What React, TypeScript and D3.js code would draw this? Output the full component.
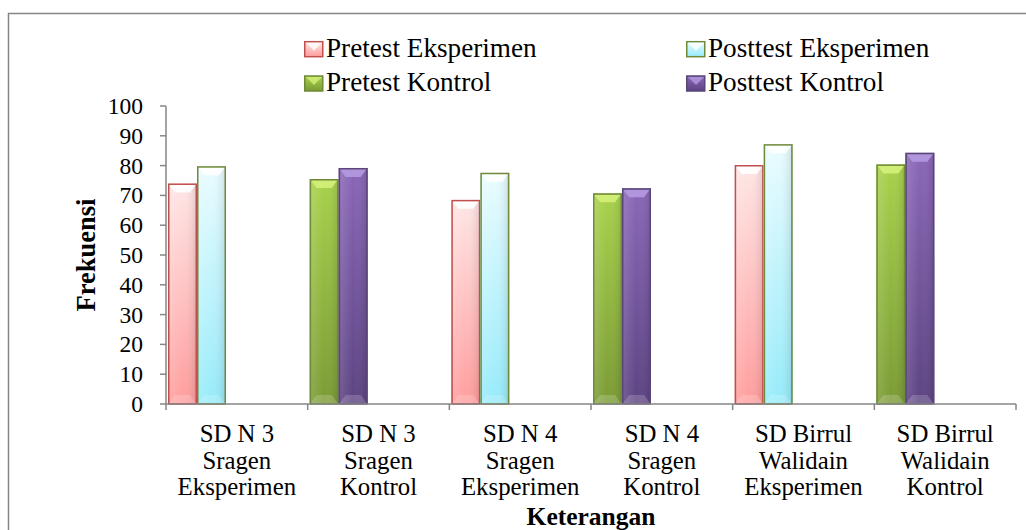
import * as D3 from 'd3'
import { useEffect, useRef } from 'react'

const CATEGORIES = [
  ['SD N 3', 'Sragen', 'Eksperimen'],
  ['SD N 3', 'Sragen', 'Kontrol'],
  ['SD N 4', 'Sragen', 'Eksperimen'],
  ['SD N 4', 'Sragen', 'Kontrol'],
  ['SD Birrul', 'Walidain', 'Eksperimen'],
  ['SD Birrul', 'Walidain', 'Kontrol'],
]
const GROUPS = ['Eksperimen', 'Kontrol', 'Eksperimen', 'Kontrol', 'Eksperimen', 'Kontrol']
const PRETEST = [74, 75.5, 68.5, 70.7, 80.2, 80.4]
const POSTTEST = [79.8, 79.2, 77.6, 72.4, 87.2, 84.3]
const SERIES = ['Pretest Eksperimen', 'Posttest Eksperimen', 'Pretest Kontrol', 'Posttest Kontrol']
const Y_TICKS = [0, 10, 20, 30, 40, 50, 60, 70, 80, 90, 100]

// top colour, bottom colour, border
const STYLE: Record<string, { top: string; bottom: string; stroke: string; chevron: string }> = {
  'Pretest Eksperimen': { top: '#ffe6e6', bottom: '#ff9d9d', stroke: '#c0504d', chevron: '#ffffff' },
  'Posttest Eksperimen': { top: '#eafcff', bottom: '#96ebfa', stroke: '#6f8a38', chevron: '#ffffff' },
  'Pretest Kontrol': { top: '#a8d24c', bottom: '#7a9b34', stroke: '#6f8a38', chevron: '#d4f07a' },
  'Posttest Kontrol': { top: '#8a67b8', bottom: '#5c4382', stroke: '#5a4678', chevron: '#b49ae0' },
}

export default function App() {
  const ref = useRef<HTMLDivElement>(null)

  useEffect(() => {
    const width = 1026
    const height = 530
    const left = 166
    const right = 1016
    const top = 106
    const bottom = 404
    const font = "'Liberation Serif', 'Times New Roman', serif"
    const axisColor = '#868686'

    const x = D3.scaleBand<number>()
      .domain(D3.range(CATEGORIES.length))
      .range([left, right])
    const slot = D3.scaleBand().domain(['pre', 'post']).range([2, 60])
    const y = D3.scaleLinear().domain([0, 100]).range([bottom, top])

    const svg = D3.create('svg')
      .attr('width', width)
      .attr('height', height)
      .attr('viewBox', [0, 0, width, height])
      .attr('style', 'position:absolute;left:0;top:0;background:#fff')

    const defs = svg.append('defs')
    SERIES.forEach((s, i) => {
      const g = defs.append('linearGradient')
        .attr('id', `grad${i}`)
        .attr('x1', 0).attr('y1', 0).attr('x2', 0).attr('y2', 1)
      g.append('stop').attr('offset', '0%').attr('stop-color', STYLE[s].top)
      g.append('stop').attr('offset', '100%').attr('stop-color', STYLE[s].bottom)
      const h = defs.append('linearGradient')
        .attr('id', `side${i}`)
        .attr('x1', 0).attr('y1', 0).attr('x2', 1).attr('y2', 0)
      h.append('stop').attr('offset', '0%').attr('stop-color', '#fff').attr('stop-opacity', 0.15)
      h.append('stop').attr('offset', '50%').attr('stop-color', '#fff').attr('stop-opacity', 0)
      h.append('stop').attr('offset', '100%').attr('stop-color', '#000').attr('stop-opacity', 0.12)
    })

    // chart border
    svg.append('rect')
      .attr('x', 8.5).attr('y', 13.5)
      .attr('width', 1040).attr('height', 540)
      .attr('fill', 'none').attr('stroke', axisColor).attr('stroke-width', 1.5)

    /* bars */
    const bars: { cat: number; key: string; series: string; value: number }[] = []
    CATEGORIES.forEach((_, i) => {
      bars.push({ cat: i, key: 'pre', series: `Pretest ${GROUPS[i]}`, value: PRETEST[i] })
      bars.push({ cat: i, key: 'post', series: `Posttest ${GROUPS[i]}`, value: POSTTEST[i] })
    })

    const bar = svg.append('g')
      .selectAll('g')
      .data(bars)
      .join('g')
      .attr('transform', (d) => `translate(${(x(d.cat) as number) + (slot(d.key) as number)},0)`)

    const bw = slot.bandwidth()
    bar.append('rect')
      .attr('x', 0)
      .attr('y', (d) => y(d.value))
      .attr('width', bw)
      .attr('height', (d) => y(0) - y(d.value))
      .attr('fill', (d) => `url(#grad${SERIES.indexOf(d.series)})`)
    bar.append('rect')
      .attr('x', 0)
      .attr('y', (d) => y(d.value))
      .attr('width', bw)
      .attr('height', (d) => y(0) - y(d.value))
      .attr('fill', (d) => `url(#side${SERIES.indexOf(d.series)})`)
    // bevel chevrons
    bar.append('path')
      .attr('d', (d) => {
        const t = y(d.value)
        return `M1,${t + 1}L${bw - 1},${t + 1}L${bw - 7},${t + 9}L7,${t + 9}Z`
      })
      .attr('fill', (d) => STYLE[d.series].chevron)
      .attr('opacity', 0.9)
    bar.append('path')
      .attr('d', () => {
        const b = y(0)
        return `M1,${b - 1}L${bw - 1},${b - 1}L${bw - 7},${b - 9}L7,${b - 9}Z`
      })
      .attr('fill', '#fff')
      .attr('opacity', 0.18)
    bar.append('rect')
      .attr('x', 0.75)
      .attr('y', (d) => y(d.value) + 0.75)
      .attr('width', bw - 1.5)
      .attr('height', (d) => y(0) - y(d.value) - 0.75)
      .attr('fill', 'none')
      .attr('stroke', (d) => STYLE[d.series].stroke)
      .attr('stroke-width', 1.5)

    /* y axis */
    const yAxis = svg.append('g')
    yAxis.append('line')
      .attr('x1', left).attr('x2', left)
      .attr('y1', y(100)).attr('y2', y(0))
      .attr('stroke', axisColor).attr('stroke-width', 1.5)
    yAxis.selectAll('line.tick')
      .data(Y_TICKS)
      .join('line')
      .attr('class', 'tick')
      .attr('x1', left - 6).attr('x2', left)
      .attr('y1', (d) => y(d)).attr('y2', (d) => y(d))
      .attr('stroke', axisColor).attr('stroke-width', 1.5)
    yAxis.selectAll('text')
      .data(Y_TICKS)
      .join('text')
      .attr('x', 143)
      .attr('y', (d) => y(d))
      .attr('dy', '0.34em')
      .attr('text-anchor', 'end')
      .attr('font-size', 23.5)
      .attr('fill', '#000')
      .text((d) => d)

    /* x axis */
    const xAxis = svg.append('g')
    xAxis.append('line')
      .attr('x1', left).attr('x2', right)
      .attr('y1', bottom).attr('y2', bottom)
      .attr('stroke', axisColor).attr('stroke-width', 1.5)
    xAxis.selectAll('line.tick')
      .data(D3.range(CATEGORIES.length + 1))
      .join('line')
      .attr('class', 'tick')
      .attr('x1', (d) => left + d * x.bandwidth())
      .attr('x2', (d) => left + d * x.bandwidth())
      .attr('y1', bottom).attr('y2', bottom + 6)
      .attr('stroke', axisColor).attr('stroke-width', 1.5)
    const labels = xAxis.selectAll('text')
      .data(CATEGORIES)
      .join('text')
      .attr('text-anchor', 'middle')
      .attr('font-size', 24.8)
      .attr('fill', '#000')
    labels.selectAll('tspan')
      .data((d, i) => d.map((line) => ({ line, i })))
      .join('tspan')
      .attr('x', (d) => (x(d.i) as number) + x.bandwidth() / 2)
      .attr('y', (_, j) => 442 + j * 26.7)
      .text((d) => d.line)

    /* axis titles */
    svg.append('text')
      .attr('x', (left + right) / 2)
      .attr('y', 525)
      .attr('text-anchor', 'middle')
      .attr('font-size', 25.5)
      .attr('font-weight', 'bold')
      .text('Keterangan')
    svg.append('text')
      .attr('transform', `translate(94.5,${(top + bottom) / 2}) rotate(-90)`)
      .attr('text-anchor', 'middle')
      .attr('font-size', 26.5)
      .attr('font-weight', 'bold')
      .text('Frekuensi')

    /* legend */
    const legendX = [304, 686]
    const legendY = [56.7, 91]
    const legend = svg.append('g')
      .selectAll('g')
      .data(SERIES)
      .join('g')
      .attr('transform', (_, i) => `translate(${legendX[i % 2]},${legendY[Math.floor(i / 2)]})`)
    legend.append('rect')
      .attr('x', 0.75).attr('y', -15)
      .attr('width', 18).attr('height', 15)
      .attr('fill', (_, i) => `url(#grad${i})`)
      .attr('stroke', (d) => STYLE[d].stroke)
      .attr('stroke-width', 1.5)
    legend.append('path')
      .attr('d', 'M2,-14L18,-14L10,-6Z')
      .attr('fill', (d) => STYLE[d].chevron)
      .attr('opacity', 0.8)
    legend.append('text')
      .attr('x', 22)
      .attr('y', 0)
      .attr('font-size', 27.2)
      .attr('fill', '#000')
      .text((d) => d)

    svg.selectAll('text').style('font-family', font)

    const node = svg.node()
    if (ref.current && node) {
      ref.current.innerHTML = ''
      ref.current.appendChild(node)
    }
  }, [])

  return <div ref={ref} />
}
